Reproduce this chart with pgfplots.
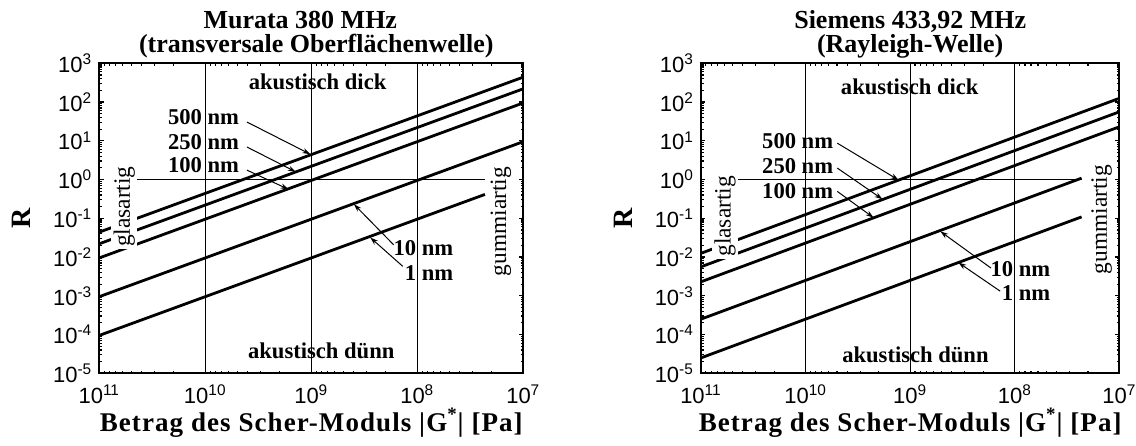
\documentclass[border=0pt]{standalone}
\usepackage{fontspec}
\setmainfont{Liberation Serif}
\newfontfamily\ticksf{Liberation Sans}
\newfontfamily\xlabfont[LetterSpace=4]{Liberation Serif}
\usepackage{pgfplots}
\pgfplotsset{compat=1.18}
\usetikzlibrary{arrows.meta}

\pgfplotsset{
  every axis/.append style={
    xmode=log, ymode=log, x dir=reverse,
    scale only axis, clip=false,
    xmin=1e7, xmax=1e11, ymin=1e-5, ymax=1e3,
    xtick={1e7,1e8,1e9,1e10,1e11},
    xticklabels={10\textsuperscript{7},10\textsuperscript{8},10\textsuperscript{9},10\textsuperscript{10},10\textsuperscript{11}},
    ytick={1e-5,1e-4,1e-3,1e-2,1e-1,1,1e1,1e2,1e3},
    yticklabels={10\textsuperscript{-5},10\textsuperscript{-4},10\textsuperscript{-3},10\textsuperscript{-2},10\textsuperscript{-1},10\textsuperscript{0},10\textsuperscript{1},10\textsuperscript{2},10\textsuperscript{3}},
    minor xtick={2e7,3e7,4e7,5e7,6e7,7e7,8e7,9e7,2e8,3e8,4e8,5e8,6e8,7e8,8e8,9e8,2e9,3e9,4e9,5e9,6e9,7e9,8e9,9e9,2e10,3e10,4e10,5e10,6e10,7e10,8e10,9e10},
    minor ytick={2e-5,3e-5,4e-5,5e-5,6e-5,7e-5,8e-5,9e-5,2e-4,3e-4,4e-4,5e-4,6e-4,7e-4,8e-4,9e-4,2e-3,3e-3,4e-3,5e-3,6e-3,7e-3,8e-3,9e-3,2e-2,3e-2,4e-2,5e-2,6e-2,7e-2,8e-2,9e-2,0.2,0.3,0.4,0.5,0.6,0.7,0.8,0.9,2,3,4,5,6,7,8,9,20,30,40,50,60,70,80,90,200,300,400,500,600,700,800,900},
    tick pos=both, tick align=inside,
    major tick length=2.2pt, minor tick length=1.3pt,
    every tick/.style={black, line width=0.6pt},
    axis line style={line width=1pt},
    xmajorgrids=true,
    major grid style={black, line width=0.6pt},
    tick label style={font=\ticksf\fontsize{11}{12}\selectfont},
    xticklabel style={anchor=base, yshift=-15pt},
  },
}
\tikzset{
  crv/.style={black, line width=1.4pt},
  hln/.style={black, line width=0.6pt},
  ann/.style={font=\bfseries\fontsize{11.3}{12}\selectfont, inner sep=0pt},
  regime/.style={font=\fontsize{11.7}{12}\selectfont, rotate=90, inner sep=1.2pt},
  arr/.style={black, line width=0.5pt, -{Stealth[length=4pt,width=2.6pt]}},
  ttl/.style={font=\bfseries\fontsize{13}{14}\selectfont, anchor=base, inner sep=0pt},
  xlab/.style={font=\xlabfont\bfseries\fontsize{13.5}{14}\selectfont, anchor=base, inner sep=0pt},
  ylab/.style={font=\bfseries\fontsize{14}{15}\selectfont, rotate=90, inner sep=0pt},
}

\begin{document}
\begin{tikzpicture}
\useasboundingbox (0,0) rectangle (568pt,222.5pt);

% ---------------- left: Murata 380 MHz ----------------
\begin{axis}[at={(49.65pt,35.85pt)}, anchor=south west, width=212pt, height=155pt]
\addplot[hln] coordinates {(4.6e10,1) (2.3e7,1)};
\addplot[crv] coordinates {(1e11,0.044) (1e7,440)};     % 500 nm
\addplot[crv] coordinates {(1e11,0.022) (1e7,220)};     % 250 nm
\addplot[crv] coordinates {(1e11,0.0095) (1e7,95)};     % 100 nm
\addplot[crv] coordinates {(1e11,0.00095) (1e7,9.5)};   % 10 nm
\addplot[crv] coordinates {(1e11,0.000095) (2.3e7,0.413)}; % 1 nm

\node[regime, fill=white] at (axis cs:5.8e10,0.2) {glasartig};
\node[regime] at (axis cs:1.63e7,0.082) {gummiartig};

\node[ann] at (axis cs:8.71e8,324) {akustisch dick};
\node[ann] at (axis cs:8.05e8,3.72e-5) {akustisch dünn};
\node[ann] at (axis cs:1.04e10,40.7) {500 nm};
\node[ann] at (axis cs:1.04e10,9.33) {250 nm};
\node[ann] at (axis cs:1.04e10,2.34) {100 nm};
\node[ann, anchor=east] at (axis cs:4.54e7,0.017) {10 nm};
\node[ann, anchor=east] at (axis cs:4.54e7,3.89e-3) {1 nm};

\draw[arr] (axis cs:4.05e9,30.5) -- (axis cs:1.02e9,4.5);
\draw[arr] (axis cs:4.05e9,6.92) -- (axis cs:1.40e9,1.58);
\draw[arr] (axis cs:4.05e9,1.75) -- (axis cs:1.64e9,0.56);
\draw[arr] (axis cs:1.67e8,0.0207) -- (axis cs:3.96e8,0.23);
\draw[arr] (axis cs:1.37e8,5.75e-3) -- (axis cs:2.78e8,0.032);

\node[ttl] at ([xshift=-5.5pt, yshift=17.5pt]rel axis cs:0.5,1) {Murata 380 MHz};
\node[ttl] at ([xshift=2.5pt, yshift=5.25pt]rel axis cs:0.5,1) {(transversale Oberflächenwelle)};
\node[xlab] at ([yshift=-29pt]rel axis cs:0.5,0) {Betrag des Scher-Moduls |G\textsuperscript{*}| [Pa]};
\node[ylab] at ([xshift=-39pt]rel axis cs:0,0.5) {R};
\end{axis}

% ---------------- right: Siemens 433,92 MHz ----------------
\begin{axis}[at={(350.5pt,35.85pt)}, anchor=south west, width=209.2pt, height=155pt]
\addplot[hln] coordinates {(4.9e10,1) (2.3e7,1)};
\addplot[crv] coordinates {(1e11,0.0125) (1e7,125)};    % 500 nm
\addplot[crv] coordinates {(1e11,0.0056) (1e7,56)};     % 250 nm
\addplot[crv] coordinates {(1e11,0.0023) (1e7,23)};     % 100 nm
\addplot[crv] coordinates {(1e11,0.00025) (2.3e7,1.087)}; % 10 nm
\addplot[crv] coordinates {(1e11,0.000025) (2.3e7,0.1087)}; % 1 nm

\node[regime, fill=white] at (axis cs:5.9e10,0.112) {glasartig};
\node[regime] at (axis cs:1.48e7,0.093) {gummiartig};

\node[ann] at (axis cs:1.01e9,251) {akustisch dick};
\node[ann] at (axis cs:8.9e8,2.95e-5) {akustisch dünn};
\node[ann] at (axis cs:1.19e10,9.55) {500 nm};
\node[ann] at (axis cs:1.19e10,2.19) {250 nm};
\node[ann] at (axis cs:1.19e10,0.5) {100 nm};
\node[ann, anchor=east] at (axis cs:4.54e7,4.8e-3) {10 nm};
\node[ann, anchor=east] at (axis cs:4.54e7,1.2e-3) {1 nm};

\draw[arr] (axis cs:4.98e9,8.7) -- (axis cs:1.29e9,0.97);
\draw[arr] (axis cs:4.98e9,1.98) -- (axis cs:1.84e9,0.31);
\draw[arr] (axis cs:4.98e9,0.495) -- (axis cs:2.24e9,0.104);
\draw[arr] (axis cs:1.69e8,5.2e-3) -- (axis cs:5.15e8,0.046);
\draw[arr] (axis cs:1.38e8,1.32e-3) -- (axis cs:3.46e8,7.2e-3);

\node[ttl] at ([yshift=17.5pt]rel axis cs:0.5,1) {Siemens 433,92 MHz};
\node[ttl] at ([yshift=5.25pt]rel axis cs:0.5,1) {(Rayleigh-Welle)};
\node[xlab] at ([yshift=-29pt]rel axis cs:0.5,0) {Betrag des Scher-Moduls |G\textsuperscript{*}| [Pa]};
\node[ylab] at ([xshift=-39pt]rel axis cs:0,0.5) {R};
\end{axis}
\end{tikzpicture}
\end{document}
